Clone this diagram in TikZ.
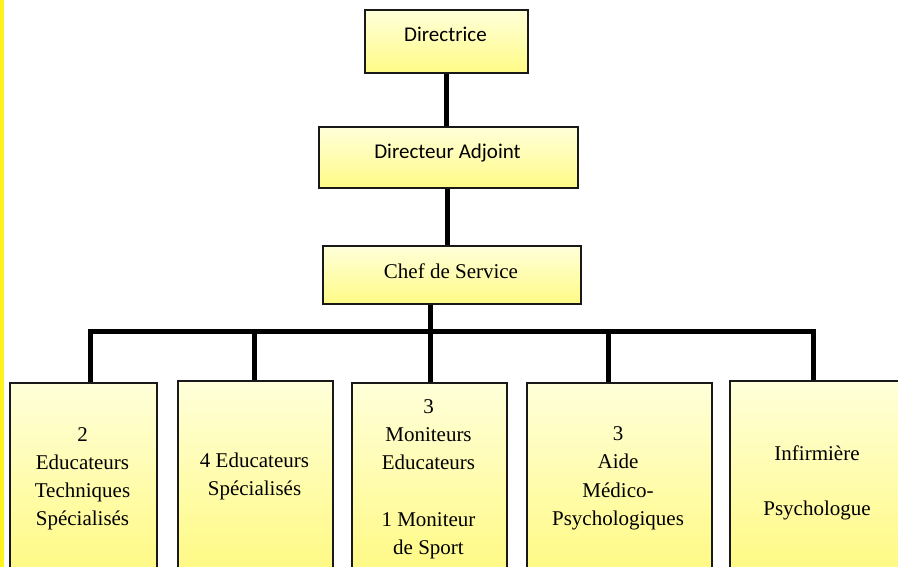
\documentclass[tikz,border=0pt]{standalone}
\usepackage{fontspec}
\setmainfont{Liberation Serif}
\newfontfamily\calib{Carlito}
\definecolor{ytop}{HTML}{FFFFDA}
\definecolor{ybot}{HTML}{FFFB86}
\definecolor{ybotlong}{HTML}{FFF978}
\definecolor{sidebar}{HTML}{FFF21F}
\begin{document}
\begin{tikzpicture}[x=1pt,y=-1pt,
  boxstyle/.style={draw=black!90, line width=1.6pt, top color=ytop, bottom color=ybot, inner sep=0pt, anchor=north west},
  tallbox/.style={boxstyle, bottom color=ybotlong},
  conn/.style={line width=5pt, draw=black},
  lbl/.style={anchor=base, inner sep=0pt, font=\fontsize{21}{28}\selectfont},
  slbl/.style={anchor=base, inner sep=0pt, font=\calib\fontsize{21}{26}\selectfont}]
\clip (0,0) rectangle (898,567);
\fill[white] (0,0) rectangle (898,567);
\fill[sidebar] (0,0) rectangle (4,567);
% top boxes
\node[boxstyle, minimum width=163pt, minimum height=63pt] (dir) at (364,9) {};
\node[boxstyle, minimum width=259pt, minimum height=61pt] (adj) at (318,126) {};
\node[boxstyle, minimum width=258pt, minimum height=58pt] (chef) at (322,245) {};
\node[slbl] (tdir) at (445.5,42) {Directrice};
\node[slbl] (tadj) at (447.5,159) {Directeur Adjoint};
\node[lbl] (tchef) at (451,278) {Chef de Service};
% bottom boxes
\node[tallbox, minimum width=147pt, minimum height=215pt] (b1) at (9,382) {};
\node[tallbox, minimum width=155pt, minimum height=215pt] (b2) at (177,380) {};
\node[tallbox, minimum width=155pt, minimum height=215pt] (b3) at (351,382) {};
\node[tallbox, minimum width=185pt, minimum height=215pt] (b4) at (526,382) {};
\node[tallbox, minimum width=190pt, minimum height=215pt] (b5) at (729,380) {};
% connectors
\coordinate (j1) at (90,331);
\coordinate (j2) at (254,331);
\coordinate (j3) at (430,331);
\coordinate (j4) at (608,331);
\coordinate (j5) at (813,331);
\coordinate (up) at (446,0);
\coordinate (up2) at (447,0);
\draw[conn] (dir.south -| up) -- (up |- adj.north);
\draw[conn] (adj.south -| up2) -- (up2 |- chef.north);
\draw[conn] (chef.south -| j3) -- (j3 |- b3.north);
\draw[conn, line cap=rect] (j1) -- (j5);
\draw[conn] (j1) -- (j1 |- b1.north);
\draw[conn] (j2) -- (j2 |- b2.north);
\draw[conn] (j4) -- (j4 |- b4.north);
\draw[conn] (j5) -- (j5 |- b5.north);
% texts of bottom boxes
\node[lbl] (t1a) at (82.5,441) {2};
\node[lbl] (t1b) at (82.5,469) {Educateurs};
\node[lbl] (t1c) at (82.5,497) {Techniques};
\node[lbl] (t1d) at (82.5,525) {Spécialisés};
\node[lbl] (t2a) at (254.5,467) {4 Educateurs};
\node[lbl] (t2b) at (254.5,495) {Spécialisés};
\node[lbl] (t3a) at (428.5,413) {3};
\node[lbl] (t3b) at (428.5,441) {Moniteurs};
\node[lbl] (t3c) at (428.5,469) {Educateurs};
\node[lbl] (t3d) at (428.5,526) {1 Moniteur};
\node[lbl] (t3e) at (428.5,554) {de Sport};
\node[lbl] (t4a) at (618,440) {3};
\node[lbl] (t4b) at (618,468) {Aide};
\node[lbl] (t4c) at (618,497) {Médico-};
\node[lbl] (t4d) at (618,525) {Psychologiques};
\node[lbl] (t5a) at (817,460) {Infirmière};
\node[lbl] (t5b) at (817,515) {Psychologue};
\end{tikzpicture}
\end{document}
